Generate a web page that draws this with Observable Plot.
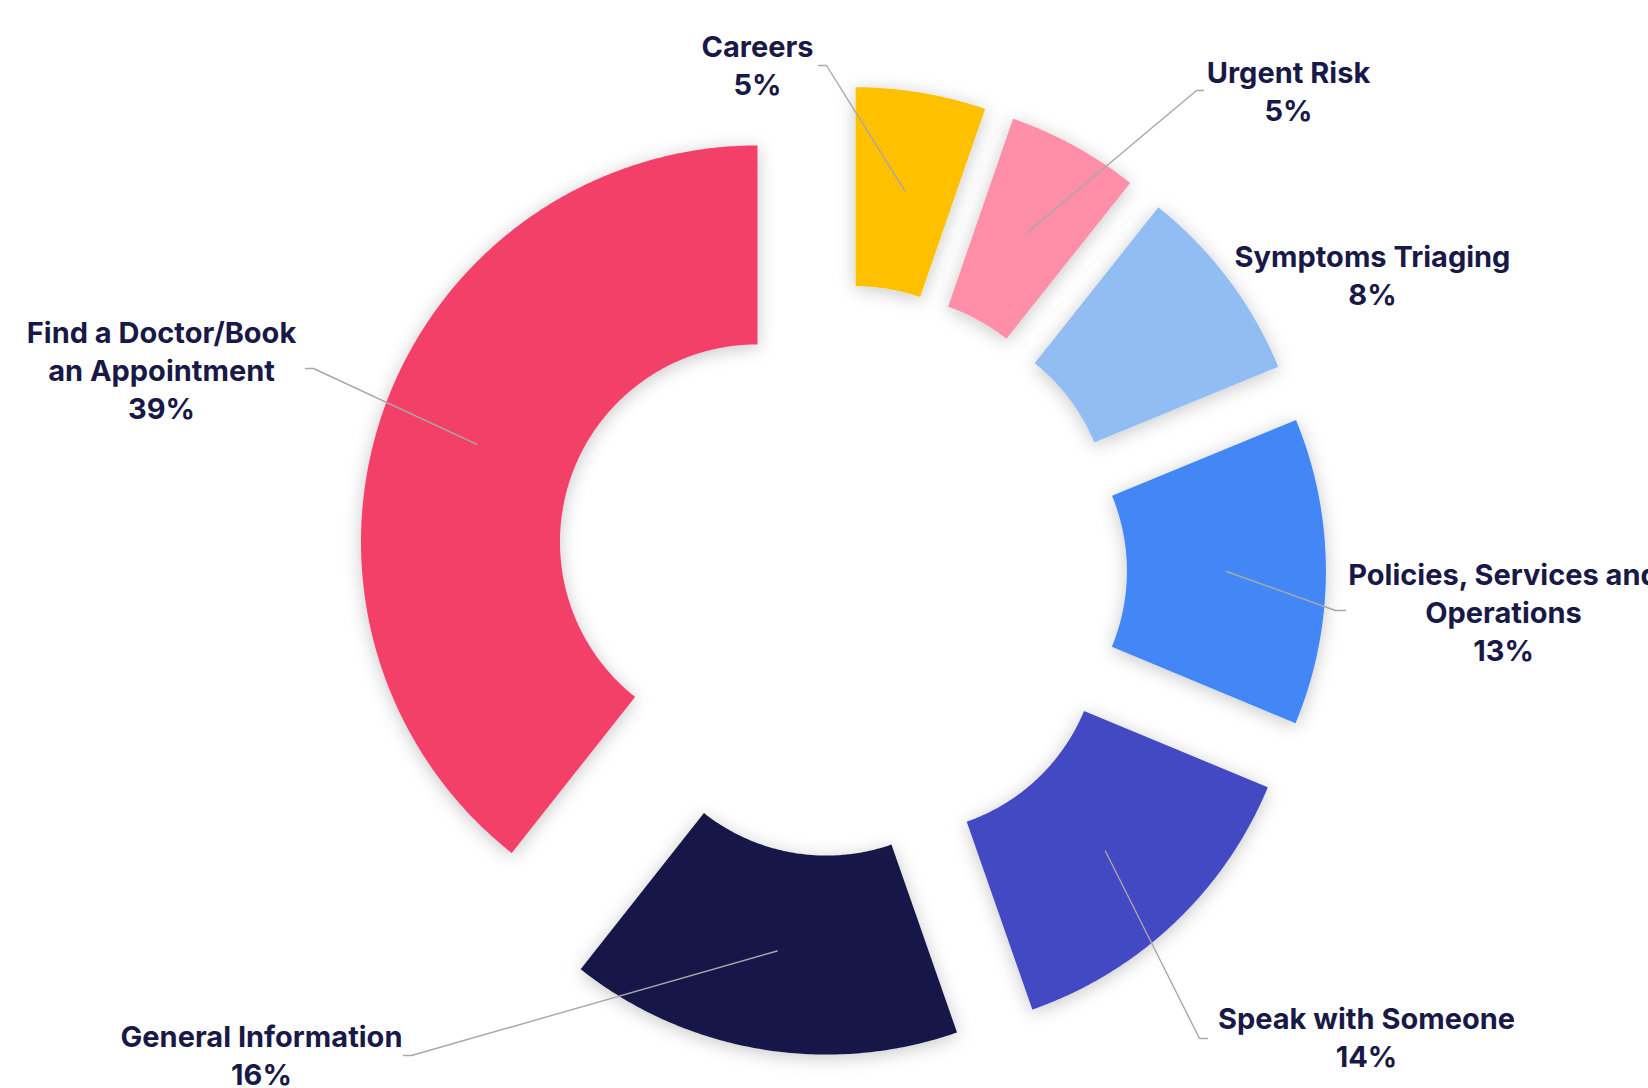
<!DOCTYPE html>
<html>
<head>
<meta charset="utf-8">
<script src="https://cdn.jsdelivr.net/npm/d3@7"></script>
<script src="https://cdn.jsdelivr.net/npm/@observablehq/plot@0.6"></script>
<style>
  html, body { margin: 0; padding: 0; background: #ffffff; overflow: hidden; }
  #chart svg { display: block; }
</style>
</head>
<body>
<div id="chart"></div>
<script>
// ---- Data ----
const categories = [
  "Careers",
  "Urgent Risk",
  "Symptoms Triaging",
  "Policies, Services and Operations",
  "Speak with Someone",
  "General Information",
  "Find a Doctor/Book an Appointment"
];
// slice sizes as measured from the slice angles (percent)
const shares = [5.3, 5.4, 8.1, 12.5, 13.4, 16.0, 39.4];
// percentages printed on the labels
const shownPct = [5, 5, 8, 13, 14, 16, 39];
const colors = ["#FFC000", "#FF8FA8", "#92BDF3", "#4287F5", "#4349C2", "#181848", "#F33F67"];

// ---- Layout (pixel frame of the picture) ----
const W = 1648, H = 1088;
const CX = 840.5, CY = 570.4;      // donut centre
const R_OUT = 396.5, R_IN = 197.5; // radii
const EXPLODE = 88.4;              // slice offset along its mid-angle
const labelLayout = [
  {tx: 757,  ty: 63.5, lx: 818,  ly: 65,   elbow: 8,   breakAfter: null},
  {tx: 1288, ty: 89.5, lx: 1203, ly: 90,   elbow: -7,  breakAfter: null},
  {tx: 1372, ty: 273.5, lx: null, ly: null, elbow: 0,  breakAfter: null},
  {tx: 1503, ty: 610.5, lx: 1345, ly: 610, elbow: -10, breakAfter: "and"},
  {tx: 1366, ty: 1035.5, lx: 1207, ly: 1038, elbow: -8, breakAfter: null},
  {tx: 261,  ty: 1053.5, lx: 403, ly: 1055, elbow: 8,  breakAfter: null},
  {tx: 161,  ty: 368.5, lx: 305,  ly: 368,  elbow: 8,  breakAfter: "Book"}
];

// ---- Build geometry from the shares ----
const total = d3.sum(shares);
const toRad = Math.PI / 180;
let acc = 0;
const slices = categories.map((cat, i) => {
  const a0 = acc / total * 360;
  acc += shares[i];
  const a1 = acc / total * 360;
  const mid = (a0 + a1) / 2;
  const ox = CX + EXPLODE * Math.sin(mid * toRad);
  const oy = CY - EXPLODE * Math.cos(mid * toRad);
  return {cat, pct: shownPct[i], color: colors[i], a0, a1, mid, ox, oy};
});

const polyPts = [];
for (const s of slices) {
  const n = Math.max(8, Math.ceil((s.a1 - s.a0) * 2));
  for (let k = 0; k <= n; k++) {
    const a = (s.a0 + (s.a1 - s.a0) * k / n) * toRad;
    polyPts.push({cat: s.cat, x: s.ox + R_OUT * Math.sin(a), y: s.oy - R_OUT * Math.cos(a)});
  }
  for (let k = n; k >= 0; k--) {
    const a = (s.a0 + (s.a1 - s.a0) * k / n) * toRad;
    polyPts.push({cat: s.cat, x: s.ox + R_IN * Math.sin(a), y: s.oy - R_IN * Math.cos(a)});
  }
}

const leaderPts = [];
const labels = [];
slices.forEach((s, i) => {
  const L = labelLayout[i];
  const rc = (R_OUT + R_IN) / 2;
  const cxp = s.ox + rc * Math.sin(s.mid * toRad);
  const cyp = s.oy - rc * Math.cos(s.mid * toRad);
  if (L.lx != null) {
    leaderPts.push({cat: s.cat, x: L.lx, y: L.ly});
    leaderPts.push({cat: s.cat, x: L.lx + L.elbow, y: L.ly});
    leaderPts.push({cat: s.cat, x: cxp, y: cyp});
  }
  let name = s.cat;
  if (L.breakAfter) {
    const idx = name.indexOf(L.breakAfter) + L.breakAfter.length;
    name = name.slice(0, idx) + "\n" + name.slice(idx + 1);
  }
  labels.push({cat: s.cat, x: L.tx, y: L.ty, text: name + "\n" + s.pct + "%"});
});

const chart = Plot.plot({
  width: W,
  height: H,
  margin: 0,
  x: {domain: [0, W], range: [0, W], axis: null},
  y: {domain: [0, H], range: [0, H], axis: null},
  color: {domain: categories, range: colors},
  style: {background: "#ffffff"},
  marks: [
    Plot.line(polyPts, {
      x: "x", y: "y", z: "cat", fill: "cat", stroke: "none",
      curve: "linear-closed"
    }),
    Plot.line(leaderPts, {
      x: "x", y: "y", z: "cat", stroke: "#A8A8A8", strokeWidth: 1.4
    }),
    Plot.text(labels, {
      x: "x", y: "y", text: "text",
      fontSize: 29, fontWeight: 700, fontFamily: "Inter, 'Noto Sans', sans-serif",
      fill: "#191947", lineHeight: 1.3, lineAnchor: "middle", textAnchor: "middle"
    })
  ]
});

// soft drop shadow beneath the slices
const svgNS = "http://www.w3.org/2000/svg";
const defs = document.createElementNS(svgNS, "defs");
defs.innerHTML = '<filter id="sliceShadow" x="-30%" y="-30%" width="160%" height="160%">' +
  '<feDropShadow dx="0" dy="3" stdDeviation="9" flood-color="#000" flood-opacity="0.22"/></filter>';
chart.insertBefore(defs, chart.firstChild);
const sliceGroup = chart.querySelector('g[aria-label="line"]');
if (sliceGroup) sliceGroup.setAttribute("filter", "url(#sliceShadow)");

document.getElementById("chart").appendChild(chart);
</script>
</body>
</html>
